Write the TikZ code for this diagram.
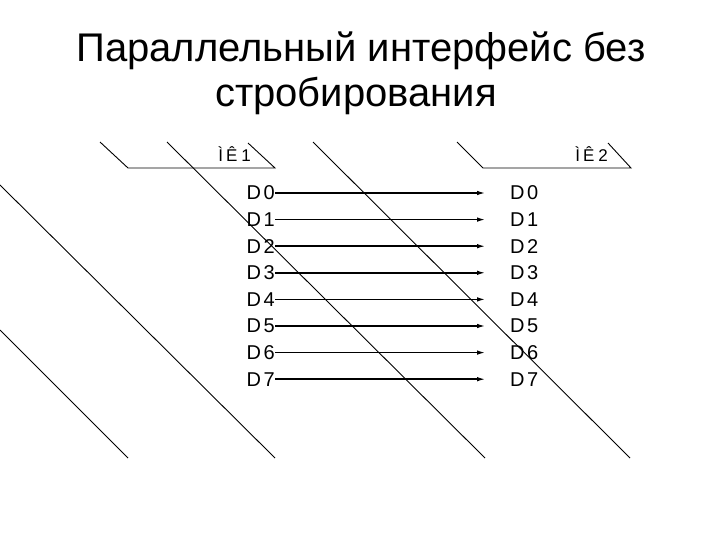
\documentclass[tikz,border=0pt]{standalone}
\usepackage{fontspec}
\setmainfont{Liberation Sans}
\usetikzlibrary{positioning,arrows.meta}
\tikzset{ttl/.style={font=\fontsize{40}{48}\selectfont,inner sep=0pt},
  mk/.style={font=\fontsize{17}{20}\selectfont,inner sep=0pt},
  sig/.style={font=\fontsize{20}{24}\selectfont,inner sep=0pt},
  slant/.style={line width=0.9pt},
  wire/.style={line width=1.7pt,-{Latex[length=9pt,width=4.5pt]},shorten >=24pt}}

\begin{document}
\begin{tikzpicture}[x=1pt,y=-1pt]
    \useasboundingbox (0,0) rectangle (720,540);
    \node[ttl,anchor=base] (t1) at (361,62) {Параллельный интерфейс без};
    \node[ttl,anchor=base] (t2) at (356,107) {стробирования};

    % blocks
    \draw[slant] (100,142) -- (128,168) -- (275,168) -- (248,143);
    \draw[slant] (457,142) -- (483,168) -- (631,168) -- (608,143);
    \node[mk,anchor=base east] (mk1) at (251,162) {Ì\hspace{3pt}Ê\hspace{4pt}1};
    \node[mk,anchor=base east] (mk2) at (608,162) {Ì\hspace{3pt}Ê\hspace{4pt}2};

    % slanted lines
    \draw[slant] (167,142) -- (485,458);
    \draw[slant] (313,142) -- (630,458);
    \draw[slant] (0,185) -- (275,458);
    \draw[slant] (0,330) -- (128,458);

    \foreach \i in {0,...,7}{
        \node[sig,anchor=east] (l\i) at (275,{193+26.6*\i}) {D\hspace{2.5pt}\i};
        \node[sig,anchor=west] (r\i) at (510,{193+26.6*\i}) {D\hspace{2.5pt}\i};
        \draw[wire] (l\i) -- (r\i);
    }
\end{tikzpicture}
\end{document}
